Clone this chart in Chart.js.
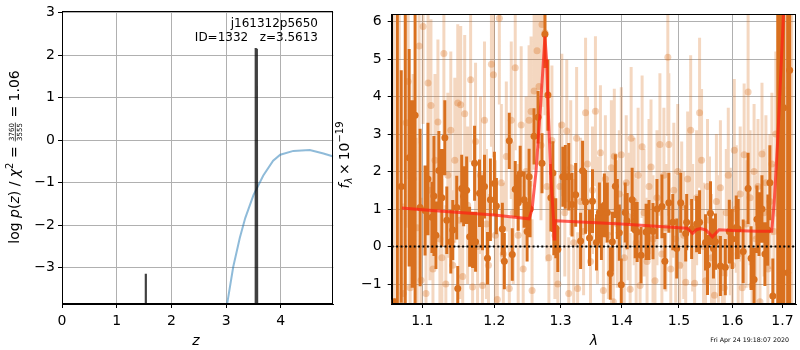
<!DOCTYPE html>
<html>
<head>
<meta charset="utf-8">
<script src="https://cdn.jsdelivr.net/npm/chart.js@4.4.1/dist/chart.umd.min.js"></script>
<style>
html, body { margin: 0; padding: 0; background: #fff; }
#wrap { position: relative; width: 800px; height: 350px; }
canvas { position: absolute; left: 0; top: 0; }
</style>
</head>
<body>
<div id="wrap">
	<canvas id="pz" width="800" height="350"></canvas>
	<canvas id="spec" width="800" height="350"></canvas>
</div>
<script>
// left panel: log p(z) and chi2 curve
const pzZ = [0, 1.525, 1.53, 1.535, 3.532, 3.542, 3.551, 3.562, 3.572, 4.96];
const pzLog = [-9, -9, -3.14, -9, -9, 2.17, 1.7, 2.15, -9, -9];
const chiZ = [3.0, 3.13, 3.25, 3.35, 3.5, 3.68, 3.86, 3.99, 4.23, 4.53, 4.78, 4.96];
const chiLog = [-4.0, -2.98, -2.3, -1.83, -1.29, -0.83, -0.48, -0.34, -0.25, -0.23, -0.31, -0.38];
const zTicks = [0, 1, 2, 3, 4];
const pTicks = [-3, -2, -1, 0, 1, 2, 3];

// right panel: spectrum, binned (dark) points
const darkLam = [1.0633, 1.0672, 1.0723, 1.0775, 1.0826, 1.0865, 1.0904, 1.0970, 1.1036, 1.1075,
	1.1128, 1.1155, 1.1182, 1.1222, 1.1262, 1.1303, 1.1330, 1.1385, 1.1412, 1.1467,
	1.1481, 1.1536, 1.1563, 1.1605, 1.1647, 1.1689, 1.1717, 1.1731, 1.1787, 1.1830,
	1.1858, 1.1901, 1.1943, 1.2001, 1.2030, 1.2117, 1.2146, 1.2219, 1.2263, 1.2307,
	1.2351, 1.2381, 1.2440, 1.2485, 1.2515, 1.2530, 1.2590, 1.2651, 1.2712, 1.2757,
	1.2803, 1.2849, 1.2880, 1.2895, 1.2926, 1.2957, 1.3036, 1.3075, 1.3129, 1.3182,
	1.3240, 1.3319, 1.3351, 1.3399, 1.3463, 1.3512, 1.3577, 1.3625, 1.3658, 1.3707,
	1.3756, 1.3806, 1.3840, 1.3890, 1.3923, 1.3957, 1.3990, 1.4057, 1.4090, 1.4175,
	1.4227, 1.4261, 1.4329, 1.4416, 1.4467, 1.4537, 1.4607, 1.4695, 1.4747, 1.4818,
	1.4889, 1.4960, 1.5032, 1.5123, 1.5141, 1.5232, 1.5324, 1.5379, 1.5490, 1.5527,
	1.5583, 1.5639, 1.5677, 1.5771, 1.5865, 1.5941, 1.5999, 1.6076, 1.6114, 1.6211,
	1.6308, 1.6367, 1.6426, 1.6484, 1.6524, 1.6583, 1.6643, 1.6703, 1.6743, 1.6803,
	1.6904, 1.6965, 1.7025, 1.7107, 1.7148];
const darkFlux = [-1.47, 7, 1.6, 7, 2.37, 1.4, 3.5, 1.04, 0.96, 1.8,
	0.78, 1.35, 0.3, 2.03, 1.3, 2.9, 0.7, 0.13, 0.44, 1.04,
	-1.12, 1.55, 1.34, 1.5, 0.26, 0.18, 2.22, 0.13, 1.42, 0.9,
	1.6, -0.31, 1.25, 1.68, 1.08, 0.47, -0.39, 2.82, -0.21, 1.53,
	1.17, 1.94, 1.25, 0.4, 1.86, 1.0, 2.94, 3.45, 2.22, 5.66,
	4.04, 1.3, 1.96, 0.47, 0.49, -0.08, 1.86, 1.86, 1.86, 1.12,
	1.38, 0.15, 2.02, 1.19, 0.23, 1.21, 0.11, 0.91, 0.39, 1.1,
	0.91, -0.72, 0.13, 1.61, 1.0, 0.37, -1.02, 0.91, 0.68, 1.25,
	0.44, 0.39, -0.23, 0.39, 0.44, 0.41, 1.0, 1.07, -0.39, 1.17,
	0.65, -0.05, 1.17, 0.35, 0.65, 0.47, 0.6, 0.65, 0.11, -0.49,
	0.89, -0.05, 0.13, -0.52, -0.55, 0.4, 0.2, 0.51, 0.47, -0.13,
	1.55, -0.31, -0.88, 0.73, 0.6, 1.0, -0.2, 0.44, 1.7, -1.32,
	7, 7, 3.7, -0.7, 4.7];
const darkErr = [0.08, 9, 3.1, 9, 2.9, 2.5, 6, 2.1, 1.2, 1.5,
	0.95, 1.6, 0.9, 1.05, 1.3, 1.0, 0.9, 0.85, 0.8, 0.85,
	0.6, 0.9, 0.8, 0.9, 0.8, 0.75, 1.0, 0.8, 0.9, 1.0,
	0.85, 0.7, 1.1, 0.85, 0.75, 0.7, 0.75, 0.75, 0.7, 0.75,
	0.75, 0.75, 0.75, 0.8, 0.75, 0.75, 0.75, 0.7, 0.8, 0.9,
	0.95, 0.9, 0.85, 0.7, 0.8, 0.6, 0.8, 0.85, 0.9, 0.85,
	0.85, 0.75, 0.8, 0.85, 0.75, 0.85, 0.75, 0.8, 0.75, 0.85,
	0.8, 0.7, 0.8, 0.85, 0.8, 0.75, 0.7, 0.8, 0.75, 0.85,
	0.75, 0.8, 0.75, 0.75, 0.8, 0.75, 0.8, 0.85, 0.75, 0.8,
	0.75, 0.8, 0.8, 0.75, 0.75, 0.8, 0.75, 0.85, 0.75, 0.8,
	0.85, 0.8, 0.75, 0.8, 0.75, 0.85, 0.8, 0.85, 0.8, 0.85,
	0.95, 0.85, 0.85, 0.9, 0.85, 0.9, 0.85, 0.95, 1.0, 1.0,
	9, 9, 9, 9, 9];

// right panel: unbinned (light) points
const lightLam = [1.0621, 1.0697, 1.0749, 1.0787, 1.0813, 1.0839, 1.0878, 1.0931, 1.0957, 1.0983,
	1.1010, 1.1049, 1.1076, 1.1102, 1.1115, 1.1142, 1.1169, 1.1209, 1.1236, 1.1263,
	1.1290, 1.1317, 1.1344, 1.1385, 1.1412, 1.1440, 1.1481, 1.1508, 1.1522, 1.1550,
	1.1578, 1.1619, 1.1661, 1.1689, 1.1731, 1.1759, 1.1801, 1.1829, 1.1858, 1.1886,
	1.1915, 1.1958, 1.1987, 1.2015, 1.2044, 1.2073, 1.2102, 1.2131, 1.2175, 1.2219,
	1.2248, 1.2278, 1.2307, 1.2351, 1.2396, 1.2426, 1.2470, 1.2515, 1.2545, 1.2560,
	1.2591, 1.2636, 1.2666, 1.2696, 1.2712, 1.2757, 1.2788, 1.2818, 1.2865, 1.2911,
	1.2958, 1.2989, 1.3020, 1.3067, 1.3098, 1.3129, 1.3161, 1.3208, 1.3255, 1.3271,
	1.3319, 1.3367, 1.3399, 1.3431, 1.3479, 1.3512, 1.3560, 1.3593, 1.3642, 1.3691,
	1.3724, 1.3773, 1.3823, 1.3857, 1.3873, 1.3923, 1.3957, 1.3990, 1.4040, 1.4074,
	1.4107, 1.4141, 1.4158, 1.4210, 1.4244, 1.4278, 1.4312, 1.4347, 1.4381, 1.4433,
	1.4467, 1.4502, 1.4537, 1.4572, 1.4607, 1.4659, 1.4694, 1.4730, 1.4765, 1.4800,
	1.4818, 1.4853, 1.4907, 1.4942, 1.4978, 1.5014, 1.5050, 1.5087, 1.5123, 1.5159,
	1.5214, 1.5251, 1.5287, 1.5324, 1.5379, 1.5416, 1.5453, 1.5490, 1.5527, 1.5565,
	1.5602, 1.5658, 1.5695, 1.5733, 1.5771, 1.5809, 1.5846, 1.5884, 1.5922, 1.5961,
	1.5999, 1.6038, 1.6076, 1.6114, 1.6153, 1.6192, 1.6230, 1.6269, 1.6308, 1.6347,
	1.6386, 1.6426, 1.6465, 1.6504, 1.6544, 1.6584, 1.6624, 1.6663, 1.6703, 1.6743,
	1.6784, 1.6824, 1.6864, 1.6904, 1.6985, 1.7066, 1.7190];
const lightFlux = [7, 7, -1.25, 3.3, 4.4, -1.1, 1.8, 0.5, 5.35, -0.9,
	5.87, -1.25, 4.36, 1.5, 3.76, -0.6, 2.3, 3.32, 0.2, -0.3,
	5.15, -1.0, 1.9, 3.1, -0.5, 2.3, 3.83, 0.7, 3.78, -0.8,
	3.54, 1.1, 4.45, -1.08, 2.8, 0.0, 1.9, -1.04, 3.37, 0.6,
	-0.5, 4.86, 4.58, 0.3, -1.41, 6.09, 1.7, -0.2, 2.4, -1.12,
	3.37, 0.9, 4.77, 0.3, 3.24, -0.6, 2.0, 3.37, 3.6, -1.17,
	4.15, 5.22, 4.27, 2.7, 5.92, 5.7, 1.6, -0.3, 2.83, 0.3,
	-1.0, 1.6, 3.24, 0.9, 3.08, -1.25, 2.1, 0.1, 2.89, -1.12,
	1.2, 0.4, 3.57, 2.2, -0.4, 1.5, 3.61, 0.7, 2.5, -1.17,
	1.8, 0.3, 2.1, -1.47, 2.41, 0.6, 1.4, 2.45, -0.3, 1.7,
	0.8, -1.14, 2.89, 1.2, 0.1, 1.9, -1.04, 2.66, 0.9, -0.4,
	1.6, 2.12, 0.2, -0.91, 1.3, 2.72, -0.2, 1.9, 0.5, 5.05,
	2.72, -0.6, 1.5, 0.2, 2.0, -0.5, 1.1, 0.3, -0.95, 1.8,
	3.1, 0.5, -0.98, 1.3, 3.57, 2.3, 0.0, -0.91, 1.6, 0.7,
	-0.3, -1.3, 1.2, 0.2, 1.57, -0.7, -1.1, 0.9, 1.9, 0.4,
	-0.5, 2.57, 1.0, -0.2, 1.4, -1.1, 2.45, 0.6, 4.12, 1.3,
	-1.04, 2.0, 0.2, 1.6, -1.47, 2.47, 0.9, 1.7, -0.6, 1.2,
	2.2, 0.4, 3.0, 7, 4.23, 7, 7];
const lightErr = [9, 9, 2.4, 2.8, 2.6, 2.1, 2.8, 2.4, 2.6, 2.2,
	2.6, 2.1, 2.4, 2.4, 2.3, 2.2, 2.3, 2.2, 2.2, 2.1,
	2.2, 2.1, 2.2, 2.1, 2.0, 2.2, 2.1, 2.1, 2.1, 2.0,
	2.1, 2.1, 2.2, 2.0, 2.1, 2.0, 2.1, 2.0, 2.1, 2.0,
	1.9, 2.2, 2.2, 2.0, 1.9, 2.3, 2.1, 1.9, 2.0, 1.9,
	2.1, 1.9, 2.2, 1.9, 2.1, 1.9, 2.0, 2.0, 2.0, 1.9,
	2.1, 2.2, 2.1, 2.0, 2.2, 2.2, 2.0, 1.9, 2.0, 1.7,
	1.5, 1.7, 1.9, 1.7, 1.9, 1.5, 1.8, 1.7, 1.9, 1.5,
	1.7, 1.7, 2.0, 1.8, 1.7, 1.7, 2.0, 1.7, 1.8, 1.5,
	1.7, 1.7, 1.8, 1.5, 1.8, 1.7, 1.7, 1.8, 1.7, 1.8,
	1.7, 1.5, 1.9, 1.7, 1.7, 1.8, 1.5, 1.9, 1.7, 1.7,
	1.8, 1.8, 1.7, 1.5, 1.8, 1.9, 1.7, 1.8, 1.7, 2.1,
	1.9, 1.7, 1.8, 1.7, 1.8, 1.7, 1.7, 1.7, 1.5, 1.8,
	2.0, 1.7, 1.5, 1.8, 2.0, 1.9, 1.7, 1.5, 1.8, 1.7,
	1.7, 1.5, 1.8, 1.7, 1.8, 1.7, 1.5, 1.7, 1.8, 1.7,
	1.7, 1.9, 1.7, 1.7, 1.8, 1.5, 1.9, 1.7, 2.1, 1.8,
	1.5, 1.8, 1.7, 1.8, 1.5, 1.9, 1.7, 1.8, 1.7, 1.8,
	1.9, 1.8, 2.2, 9, 8, 9, 9];

// best-fit model
const modelLam = [1.0732, 1.10, 1.15, 1.20, 1.2515, 1.2560, 1.262, 1.269, 1.2757, 1.2785,
	1.2805, 1.285, 1.2890, 1.2900, 1.2910, 1.30, 1.40, 1.50, 1.515, 1.525,
	1.532, 1.54, 1.55, 1.562, 1.5746, 1.60, 1.65, 1.678, 1.683, 1.690,
	1.695, 1.700, 1.703];
const modelFlux = [1.03, 0.98, 0.91, 0.84, 0.74, 0.99, 2.0, 3.76, 5.6, 4.9,
	3.76, 1.8, 0.73, 0.2, 0.69, 0.68, 0.6, 0.5, 0.49, 0.35,
	0.45, 0.48, 0.44, 0.26, 0.45, 0.43, 0.41, 0.41, 1.16, 2.8,
	4.2, 5.6, 6.5];
const lamTicks = [1.1, 1.2, 1.3, 1.4, 1.5, 1.6, 1.7];
const fluxTicks = [-1, 0, 1, 2, 3, 4, 5, 6];

const FONT = '"DejaVu Sans", sans-serif';
const ORANGE = 'rgb(217,112,30)';
const ORANGE_LIGHT = 'rgba(217,112,30,0.28)';
const ORANGE_LIGHT_PT = 'rgba(217,112,30,0.32)';

function minusFmt(v) {
	return v < 0 ? '\u2212' + Math.abs(v) : String(v);
}

// vertical error bar segments, broken with null gaps
function errSegments(lam, flux, err) {
	const out = [];
	lam.forEach((l, i) => {
		out.push({x: l, y: flux[i] - err[i]}, {x: l, y: flux[i] + err[i]}, {x: l, y: null});
	});
	return out;
}

function toPoints(xs, ys) {
	return xs.map((x, i) => ({x: x, y: ys[i]}));
}

function axisOpts(extra) {
	return Object.assign({
		grid: {color: '#b0b0b0', lineWidth: 1, tickColor: '#000', tickLength: 4},
		border: {color: '#000', width: 1},
		ticks: {color: '#000', font: {family: FONT, size: 14}, padding: 3, maxRotation: 0, autoSkip: false}
	}, extra);
}

// draws a rotated label made of pieces (text, sub/superscripts, a fraction)
function drawRotLabel(ctx, x, yc, parts) {
	ctx.save();
	let total = 0;
	parts.forEach(p => {
		ctx.font = p.font;
		if (p.num) {
			p.w = Math.max(ctx.measureText(p.num).width, ctx.measureText(p.den).width) + 2;
		} else {
			p.w = ctx.measureText(p.t).width;
		}
		total += p.w;
	});
	ctx.translate(x, yc);
	ctx.rotate(-Math.PI / 2);
	ctx.fillStyle = '#000';
	ctx.textBaseline = 'alphabetic';
	let cx = -total / 2;
	parts.forEach(p => {
		ctx.font = p.font;
		if (p.num) {
			ctx.textAlign = 'center';
			ctx.fillText(p.num, cx + p.w / 2, -4.2);
			ctx.fillText(p.den, cx + p.w / 2, 3.8);
			ctx.fillRect(cx + 0.5, -3.6, p.w - 1, 0.7);
		} else {
			ctx.textAlign = 'left';
			ctx.fillText(p.t, cx, p.dy || 0);
		}
		cx += p.w;
	});
	ctx.restore();
}

function drawFrame(chart) {
	const {ctx, chartArea: a} = chart;
	ctx.save();
	ctx.strokeStyle = '#000';
	ctx.lineWidth = 1;
	ctx.strokeRect(Math.round(a.left) + 0.5, Math.round(a.top) + 0.5,
		Math.round(a.right - a.left) - 1, Math.round(a.bottom - a.top) - 1);
	ctx.restore();
}

const leftDeco = {
	id: 'leftDeco',
	afterDraw(chart) {
		const ctx = chart.ctx;
		drawFrame(chart);
		ctx.save();
		ctx.fillStyle = '#000';
		ctx.font = '12px ' + FONT;
		ctx.textAlign = 'right';
		ctx.fillText('j161312p5650', 318, 27);
		ctx.fillText('ID=1332   z=3.5613', 318, 41);
		ctx.font = 'italic 14px ' + FONT;
		ctx.textAlign = 'center';
		ctx.fillText('z', 196, 344.5);
		ctx.restore();
		drawRotLabel(ctx, 18.5, 157, [
			{t: 'log ', font: '14px ' + FONT},
			{t: 'p', font: 'italic 14px ' + FONT},
			{t: '(', font: '14px ' + FONT},
			{t: 'z', font: 'italic 14px ' + FONT},
			{t: ') / ', font: '14px ' + FONT},
			{t: '\u03c7', font: 'italic 14px ' + FONT},
			{t: '2', font: '10px ' + FONT, dy: -6},
			{t: ' = ', font: '14px ' + FONT},
			{num: '3760', den: '3555', font: '7px ' + FONT},
			{t: ' = 1.06', font: '14px ' + FONT}
		]);
	}
};

const rightDeco = {
	id: 'rightDeco',
	afterDraw(chart) {
		const ctx = chart.ctx;
		drawFrame(chart);
		ctx.save();
		ctx.fillStyle = '#000';
		ctx.font = 'italic 14px ' + FONT;
		ctx.textAlign = 'center';
		ctx.fillText('\u03bb', 594, 345);
		ctx.font = '6.3px ' + FONT;
		ctx.textAlign = 'right';
		ctx.fillText('Fri Apr 24 19:18:07 2020', 789, 342);
		ctx.restore();
		drawRotLabel(ctx, 349, 155, [
			{t: 'f', font: 'italic 14px ' + FONT},
			{t: '\u03bb', font: 'italic 10px ' + FONT, dy: 3},
			{t: '\u2009\u00d7\u200910', font: '14px ' + FONT},
			{t: '\u221219', font: '10px ' + FONT, dy: -6}
		]);
	}
};

const pzX = axisOpts({
	type: 'linear', min: 0, max: 4.96,
	afterBuildTicks: s => { s.ticks = zTicks.map(v => ({value: v})); },
	afterFit: s => { s.height = 46; }
});
pzX.ticks.padding = 4.5;
const pzY = axisOpts({
	type: 'linear', min: -3.85, max: 3.03,
	afterBuildTicks: s => { s.ticks = pTicks.map(v => ({value: v})); },
	afterFit: s => { s.width = 62; }
});
pzY.ticks.callback = minusFmt;

new Chart(document.getElementById('pz'), {
	type: 'line',
	data: {
		datasets: [
			{data: toPoints(pzZ, pzLog), borderColor: 'rgba(0,0,0,0.75)', borderWidth: 2.2,
				pointRadius: 0, order: 0},
			{data: toPoints(chiZ, chiLog), borderColor: 'rgba(31,119,180,0.5)', borderWidth: 2,
				pointRadius: 0, order: 1}
		]
	},
	options: {
		responsive: false,
		animation: false,
		layout: {padding: {left: 0, right: 466.7, top: 6, bottom: 0}},
		plugins: {legend: {display: false}, tooltip: {enabled: false}},
		scales: {x: pzX, y: pzY}
	},
	plugins: [leftDeco]
});

const specX = axisOpts({
	type: 'logarithmic', min: 1.06, max: 1.728, z: 1,
	afterBuildTicks: s => { s.ticks = lamTicks.map(v => ({value: v})); },
	afterFit: s => { s.height = 46; }
});
specX.ticks.callback = v => v.toFixed(1);
specX.ticks.padding = 4.5;
const specY = axisOpts({
	type: 'linear', min: -1.53, max: 6.19, z: 1,
	afterBuildTicks: s => { s.ticks = fluxTicks.map(v => ({value: v})); },
	afterFit: s => { s.width = 51.7; }
});
specY.ticks.callback = minusFmt;
specY.ticks.padding = 6;

new Chart(document.getElementById('spec'), {
	type: 'line',
	data: {
		datasets: [
			{data: toPoints(modelLam, modelFlux), borderColor: 'rgba(255,30,20,0.7)', borderWidth: 3,
				pointRadius: 0, order: 0},
			{data: [{x: 1.06, y: 0}, {x: 1.728, y: 0}], borderColor: '#000', borderWidth: 2,
				borderDash: [2, 2.4], pointRadius: 0, order: 1},
			{data: toPoints(darkLam, darkFlux), showLine: false, pointRadius: 3.5,
				pointBackgroundColor: ORANGE, pointBorderWidth: 0, order: 2},
			{data: errSegments(darkLam, darkFlux, darkErr), borderColor: ORANGE, borderWidth: 3,
				pointRadius: 0, spanGaps: false, order: 3},
			{data: toPoints(lightLam, lightFlux), showLine: false, pointRadius: 3.5,
				pointBackgroundColor: ORANGE_LIGHT_PT, pointBorderWidth: 0, order: 4},
			{data: errSegments(lightLam, lightFlux, lightErr), borderColor: ORANGE_LIGHT, borderWidth: 3,
				pointRadius: 0, spanGaps: false, order: 5}
		]
	},
	options: {
		responsive: false,
		animation: false,
		layout: {padding: {left: 340, right: 0.7, top: 6, bottom: 0}},
		plugins: {legend: {display: false}, tooltip: {enabled: false}},
		scales: {x: specX, y: specY}
	},
	plugins: [rightDeco]
});
</script>
</body>
</html>
